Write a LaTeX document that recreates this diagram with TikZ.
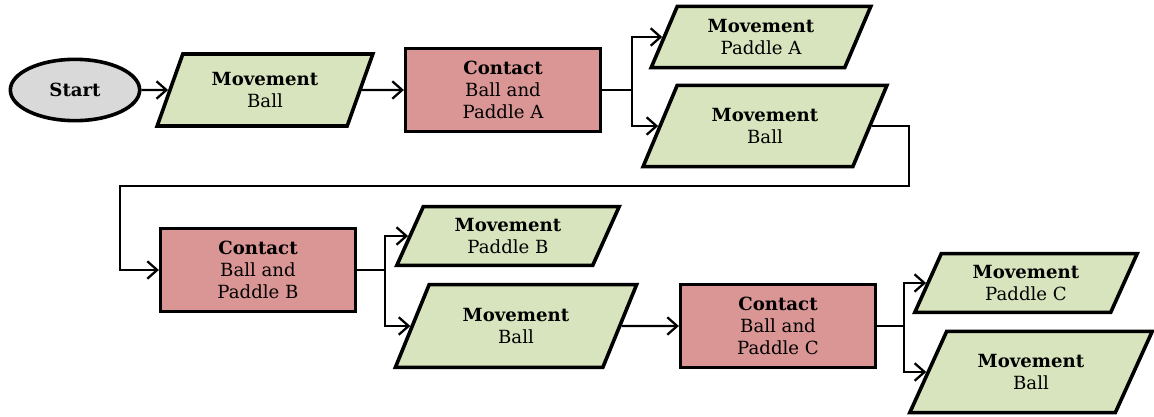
\documentclass[tikz,border=0pt]{standalone}
\usepackage{fontspec}
\setmainfont{DejaVu Serif}
\usetikzlibrary{arrows.meta,shapes.geometric}

\definecolor{movegreen}{HTML}{D7E4BD}
\definecolor{contactred}{HTML}{D99694}
\definecolor{startgray}{HTML}{D9D9D9}

\begin{document}
\begin{tikzpicture}[x=0.75pt,y=-0.75pt,font=\fontsize{13.6}{16.6}\selectfont,
  >={Straight Barb[length=2.6mm,width=4.6mm]},
  start/.style={draw,line width=2.7pt,ellipse,fill=startgray,minimum width=97pt,minimum height=46pt},
  move/.style={draw,line width=2.7pt,trapezium,trapezium left angle=66,trapezium right angle=114,
    trapezium stretches=true,fill=movegreen,align=center,inner sep=1pt,minimum width=165pt,minimum height=46pt},
  contact/.style={draw,line width=2.7pt,rectangle,fill=contactred,align=center,inner sep=1pt,minimum width=146pt,minimum height=62pt},
  link/.style={line width=1.7pt}]
\useasboundingbox (0,0) rectangle (1154,417);
% first row
\node[start] (start) at (75,90) {\textbf{Start}};
\node[move,minimum width=162pt,minimum height=54pt] (mvball1) at (265,90) {\textbf{Movement}\\Ball};
\node[contact] (cntA) at (503,90) {\textbf{Contact}\\Ball and\\Paddle A};
\node[move] (mvpadA) at (761,37) {\textbf{Movement}\\Paddle A};
\node[move,trapezium left angle=61,trapezium right angle=119,minimum width=183pt,minimum height=61pt] (mvball2) at (765,126) {\textbf{Movement}\\Ball};
% second row
\node[contact] (cntB) at (258,270) {\textbf{Contact}\\Ball and\\Paddle B};
\node[move,minimum width=167pt,minimum height=44pt] (mvpadB) at (508,236) {\textbf{Movement}\\Paddle B};
\node[move,trapezium left angle=61,trapezium right angle=119,minimum width=181pt,minimum height=62pt] (mvball3) at (516,326) {\textbf{Movement}\\Ball};
\node[contact] (cntC) at (778,326) {\textbf{Contact}\\Ball and\\Paddle C};
\node[move,minimum width=167pt,minimum height=44pt] (mvpadC) at (1026,283) {\textbf{Movement}\\Paddle C};
\node[move,trapezium left angle=58,trapezium right angle=122,minimum width=182pt,minimum height=61pt] (mvball4) at (1031,372) {\textbf{Movement}\\Ball};
% branch points and the loop back
\coordinate (forkA) at (632,90);
\coordinate (forkB) at (385,270);
\coordinate (forkC) at (904,326);
\coordinate (loopR) at (909,186);
\coordinate (loopL) at (120,186);
\draw[link,->] (start) -- (mvball1);
\draw[link,->] (mvball1) -- (cntA);
\draw[link] (cntA.east) -- (forkA);
\draw[link,->] (forkA) |- (mvpadA);
\draw[link,->] (forkA) |- (mvball2);
\draw[link,->] (mvball2.east) -| (loopR) -- (loopL) |- (cntB);
\draw[link] (cntB.east) -- (forkB);
\draw[link,->] (forkB) |- (mvpadB);
\draw[link,->] (forkB) |- (mvball3);
\draw[link,->] (mvball3) -- (cntC);
\draw[link] (cntC.east) -- (forkC);
\draw[link,->] (forkC) |- (mvpadC);
\draw[link,->] (forkC) |- (mvball4);
\end{tikzpicture}
\end{document}
